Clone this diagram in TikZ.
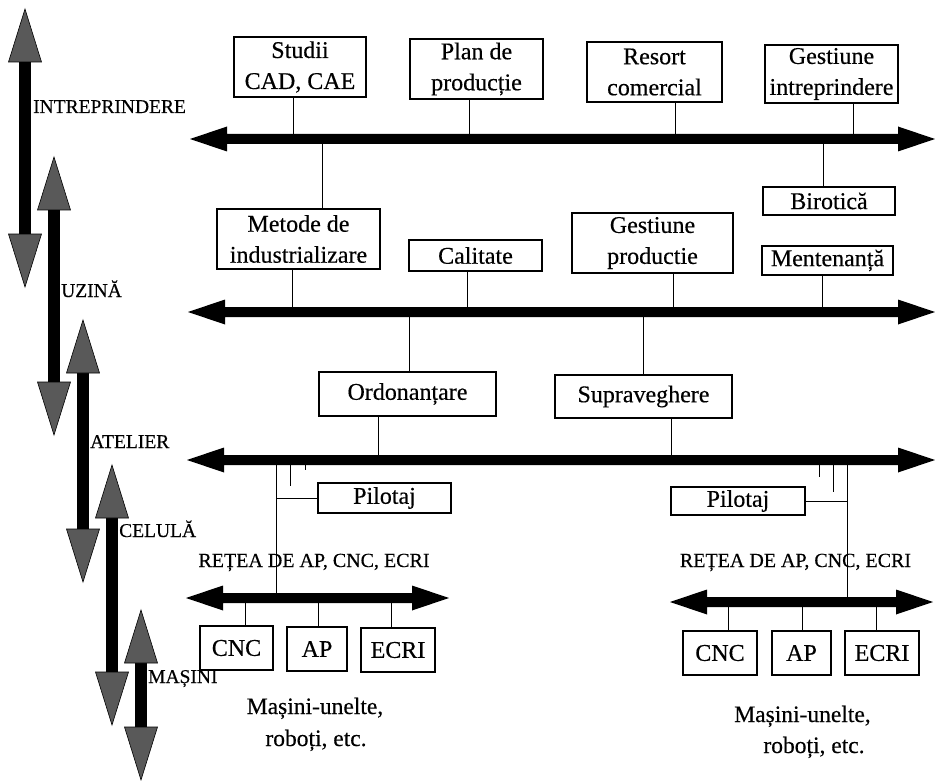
\documentclass[tikz,border=0pt]{standalone}
\usepackage{fontspec}
\setmainfont{Liberation Serif}[FakeBold=0.4]

% thick double-headed bus: left tip x, right tip x, y
\newcommand\hbusarrow[3]{%
  \fill (#1,#3) -- ({#1+37},{#3-12.5}) -- ({#1+37},{#3-5}) -- ({#2-37},{#3-5})
    -- ({#2-37},{#3-12.5}) -- (#2,#3) -- ({#2-37},{#3+12.5}) -- ({#2-37},{#3+5})
    -- ({#1+37},{#3+5}) -- ({#1+37},{#3+12.5}) -- cycle;}

% vertical level arrow: x, top tip y, bottom tip y
\newcommand\vlevelarrow[3]{%
  \fill ({#1-6},{#2+50}) rectangle ({#1+6},{#3-50});
  \draw[headfill] (#1,#2) -- ({#1-16.5},{#2+53}) -- ({#1+16.5},{#2+53}) -- cycle;
  \draw[headfill] (#1,#3) -- ({#1-16.5},{#3-53}) -- ({#1+16.5},{#3-53}) -- cycle;}

\begin{document}
\begin{tikzpicture}[x=1pt,y=-1pt,
  box/.style={draw, line width=1.3pt, inner sep=0pt, align=center,
              font=\fontsize{24}{31}\selectfont},
  wire/.style={draw, line width=0.8pt},
  levellabel/.style={anchor=base west, inner sep=0pt, font=\fontsize{19.5}{21}\selectfont},
  busnote/.style={anchor=base, inner sep=0pt, font=\fontsize{20}{22}\selectfont},
  caption/.style={anchor=base, inner sep=0pt, font=\fontsize{23.5}{28}\selectfont},
  headfill/.style={fill=black!65, draw=black, line width=0.6pt}
]
\useasboundingbox (0,0) rectangle (935,781);

% ---------- levels on the left ----------
\vlevelarrow{25}{9}{287}
\vlevelarrow{54}{157}{435}
\vlevelarrow{83}{320}{582}
\vlevelarrow{112}{465}{725}
\vlevelarrow{141}{610}{780}

\node[levellabel] (lvl1) at (33,113) {INTREPRINDERE};
\node[levellabel] (lvl2) at (61,297) {UZINĂ};
\node[levellabel] (lvl3) at (90,448) {ATELIER};
\node[levellabel] (lvl4) at (119,537) {CELULĂ};
\node[levellabel] (lvl5) at (148,683) {MAȘINI};

% ---------- boxes ----------
\node[box, minimum width=132pt, minimum height=60pt] (studii)   at (300,67)    {Studii\\CAD, CAE};
\node[box, minimum width=133pt, minimum height=60pt] (plan)     at (476.5,69)  {Plan de\\producție};
\node[box, minimum width=135pt, minimum height=60pt] (resort)   at (654.5,72)  {Resort\\comercial};
\node[box, minimum width=133pt, minimum height=58pt] (gestintr) at (831.5,74)  {Gestiune\\intreprindere};

\node[box, minimum width=132pt, minimum height=28pt] (birotica) at (829,201)   {Birotică};
\node[box, minimum width=163pt, minimum height=60pt] (metode)   at (298.5,239) {Metode de\\industrializare};
\node[box, minimum width=133pt, minimum height=31pt] (calitate) at (475.5,255.5) {Calitate};
\node[box, minimum width=161pt, minimum height=60pt] (gestprod) at (652.5,243) {Gestiune\\productie};
\node[box, minimum width=131pt, minimum height=29pt] (mentenanta) at (827.5,260.5) {Mentenanță};

\node[box, minimum width=177pt, minimum height=44pt] (ordon)    at (407.5,394) {Ordonanțare};
\node[box, minimum width=177pt, minimum height=43pt] (suprav)   at (643.5,396.5) {Supraveghere};

\node[box, minimum width=133pt, minimum height=30pt] (pilotL)   at (384.5,498) {Pilotaj};
\node[box, minimum width=134pt, minimum height=28pt] (pilotR)   at (738,501)   {Pilotaj};

\node[box, minimum width=73pt, minimum height=44pt] (cncL)  at (236.5,648) {CNC};
\node[box, minimum width=60pt, minimum height=44pt] (apL)   at (317,649)   {AP};
\node[box, minimum width=74pt, minimum height=44pt] (ecriL) at (398,650)   {ECRI};
\node[box, minimum width=74pt, minimum height=44pt] (cncR)  at (720,653)   {CNC};
\node[box, minimum width=59pt, minimum height=44pt] (apR)   at (801.5,653) {AP};
\node[box, minimum width=74pt, minimum height=44pt] (ecriR) at (882,653)   {ECRI};

% ---------- bus levels ----------
\coordinate (bus1) at (0,139);
\coordinate (bus2) at (0,312);
\coordinate (bus3) at (0,460);
\coordinate (bus4L) at (0,598);
\coordinate (bus4R) at (0,602);

% taps on the enterprise bus
\coordinate (tStudii) at (293,139);
\coordinate (tPlan) at (469,139);
\coordinate (tResort) at (675,139);
\coordinate (tGestIntr) at (853,139);
\coordinate (tMetodeUp) at (322,139);
\coordinate (tBirotica) at (823,139);
% taps on the plant bus
\coordinate (tMetode) at (292,312);
\coordinate (tCalitate) at (467,312);
\coordinate (tGestProd) at (673,312);
\coordinate (tMentenanta) at (822,312);
\coordinate (tOrdonUp) at (409,312);
\coordinate (tSupravUp) at (643,312);
% taps on the workshop bus
\coordinate (tOrdon) at (378,460);
\coordinate (tSuprav) at (671,460);
\coordinate (cellL) at (276,598);
\coordinate (cellR) at (847,602);
\coordinate (stubA) at (290,486);
\coordinate (stubB) at (305,470);
\coordinate (stubC) at (819,477);
\coordinate (stubD) at (833,492);
% taps on the cell networks
\coordinate (tCncL) at (245,598);
\coordinate (tApL) at (318,598);
\coordinate (tEcriL) at (391,598);
\coordinate (tCncR) at (728,602);
\coordinate (tApR) at (802,602);
\coordinate (tEcriR) at (876,602);

\draw[wire] (tStudii |- studii.south) -- (tStudii);
\draw[wire] (tPlan |- plan.south) -- (tPlan);
\draw[wire] (tResort |- resort.south) -- (tResort);
\draw[wire] (tGestIntr |- gestintr.south) -- (tGestIntr);
\draw[wire] (tMetodeUp) -- (tMetodeUp |- metode.north);
\draw[wire] (tBirotica) -- (tBirotica |- birotica.north);

\draw[wire] (tMetode |- metode.south) -- (tMetode);
\draw[wire] (tCalitate |- calitate.south) -- (tCalitate);
\draw[wire] (tGestProd |- gestprod.south) -- (tGestProd);
\draw[wire] (tMentenanta |- mentenanta.south) -- (tMentenanta);
\draw[wire] (tOrdonUp) -- (tOrdonUp |- ordon.north);
\draw[wire] (tSupravUp) -- (tSupravUp |- suprav.north);

\draw[wire] (tOrdon |- ordon.south) -- (tOrdon);
\draw[wire] (tSuprav |- suprav.south) -- (tSuprav);
\draw[wire] (cellL |- bus3) -- (cellL);
\draw[wire] (cellR |- bus3) -- (cellR);
\draw[wire] (pilotL.west) -- (pilotL.west -| cellL);
\draw[wire] (pilotR.east) -- (pilotR.east -| cellR);
\draw[wire] (stubA |- bus3) -- (stubA);
\draw[wire] (stubB |- bus3) -- (stubB);
\draw[wire] (stubC |- bus3) -- (stubC);
\draw[wire] (stubD |- bus3) -- (stubD);

\draw[wire] (tCncL) -- (tCncL |- cncL.north);
\draw[wire] (tApL) -- (tApL |- apL.north);
\draw[wire] (tEcriL) -- (tEcriL |- ecriL.north);
\draw[wire] (tCncR) -- (tCncR |- cncR.north);
\draw[wire] (tApR) -- (tApR |- apR.north);
\draw[wire] (tEcriR) -- (tEcriR |- ecriR.north);

\hbusarrow{190}{935}{139}
\hbusarrow{188}{935}{312}
\hbusarrow{187}{935}{460}
\hbusarrow{186}{449}{598}
\hbusarrow{670}{933}{602}

% ---------- network names and machine notes ----------
\node[busnote] (netL) at (314,567) {REȚEA DE AP, CNC, ECRI};
\node[busnote] (netR) at (795.5,567) {REȚEA DE AP, CNC, ECRI};

\node[caption] (machL1) at (315,714) {Mașini-unelte,};
\node[caption] (machL2) at (316,746) {roboți, etc.};
\node[caption] (machR1) at (802.5,722) {Mașini-unelte,};
\node[caption] (machR2) at (814,753) {roboți, etc.};

\end{tikzpicture}
\end{document}
